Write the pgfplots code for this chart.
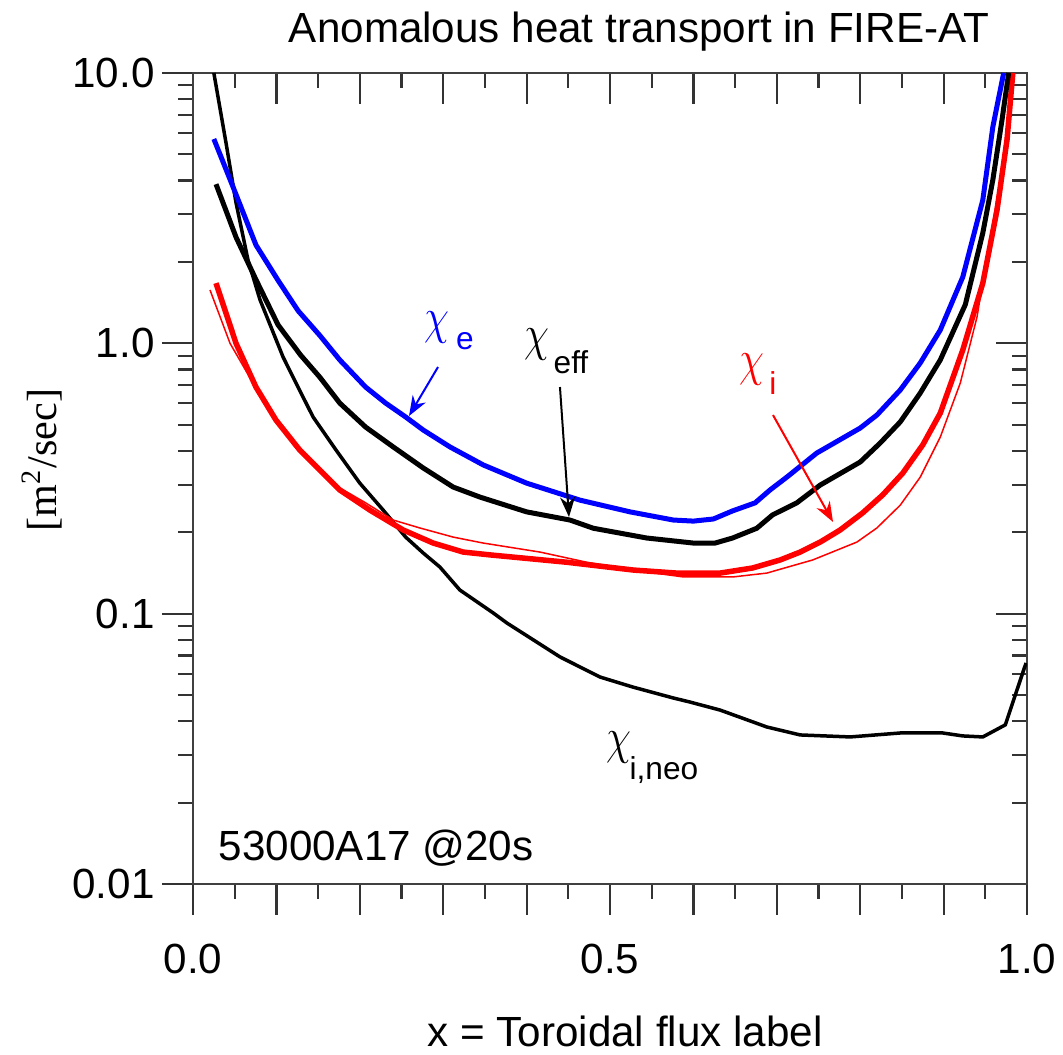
\documentclass[border=0pt]{standalone}
\usepackage{fontspec}
\setmainfont{Liberation Sans}
\newfontfamily\serifont{Liberation Serif}
\usepackage{pgfplots}
\pgfplotsset{compat=1.18}
\usetikzlibrary{arrows.meta}

\newcommand\fs{\fontsize{12}{14}\selectfont}
\newcommand\sub{\fontsize{9}{10}\selectfont}
\newcommand\chii{\scalebox{0.8}[1]{\fontsize{14}{15}\selectfont$\chi$}}

\pgfplotsset{
  boxframe/.style={
    width=83.4mm, height=81.1mm, scale only axis,
    xmin=0, xmax=1, ymin=0.01, ymax=10,
    axis line style={line width=0.25mm, black!75},
    major tick length=3.1mm, minor tick length=1.5mm,
    every tick/.style={line width=0.22mm, black!80},
    xtick={0,0.1,0.2,0.3,0.4,0.5,0.6,0.7,0.8,0.9,1},
    minor xtick={0.05,0.15,0.25,0.35,0.45,0.55,0.65,0.75,0.85,0.95},
    ytick={0.01,0.1,1,10},
    minor ytick={0.02,0.03,0.04,0.05,0.06,0.07,0.08,0.09,
                 0.2,0.3,0.4,0.5,0.6,0.7,0.8,0.9,
                 2,3,4,5,6,7,8,9},
  }
}

\begin{document}
\begin{tikzpicture}
\useasboundingbox (-19.3mm,-17mm) rectangle (87mm,88.4mm);

% ticks on top and right point inward
\begin{axis}[ymode=log, boxframe, tick align=inside, xtick pos=right, ytick pos=right,
  xticklabels={}, yticklabels={}, tick label style={opacity=0}]
\end{axis}

\begin{axis}[ymode=log, boxframe, tick align=outside, xtick pos=left, ytick pos=left,
  clip mode=individual,
  xticklabels={\mbox{0.0},,,,,\mbox{0.5},,,,,\mbox{1.0}},
  yticklabels={\mbox{0.01},\mbox{0.1},\mbox{1.0},\mbox{10.0}},
  tick label style={font=\fs},
  xticklabel style={yshift=-1.7mm},
  yticklabel style={xshift=0.5mm}]

% chi_i,neo
\addplot[black, line width=0.35mm] coordinates {(0.025,10.0)(0.0396,5.51)(0.0516,3.31)(0.066,2.03)(0.0803,1.45)(0.096,1.10)(0.108,0.890)(0.1235,0.713)(0.144,0.534)(0.1715,0.403)(0.200,0.304)(0.228,0.2417)(0.255,0.192)(0.276,0.1677)(0.296,0.1488)(0.320,0.1223)(0.360,0.1006)(0.3765,0.0923)(0.440,0.0692)(0.488,0.0583)(0.5276,0.0535)(0.5755,0.0488)(0.596,0.0471)(0.632,0.0440)(0.688,0.0381)(0.728,0.0356)(0.788,0.0350)(0.848,0.0362)(0.899,0.0362)(0.923,0.0353)(0.947,0.0350)(0.974,0.0388)(0.9988,0.0657)};

% chi_i thin
\addplot[red, line width=0.15mm] coordinates {(0.0204,1.575)(0.0444,1.00)(0.072,0.713)(0.0995,0.530)(0.128,0.403)(0.176,0.292)(0.207,0.257)(0.240,0.222)(0.272,0.2075)(0.312,0.192)(0.348,0.1825)(0.416,0.169)(0.472,0.155)(0.528,0.145)(0.588,0.1367)(0.647,0.1367)(0.688,0.1413)(0.743,0.158)(0.796,0.184)(0.820,0.2075)(0.848,0.252)(0.872,0.320)(0.896,0.450)(0.920,0.713)(0.940,1.25)(0.952,2.09)(0.968,4.02)(0.977,6.70)(0.983,10.0)};

% chi_i
\addplot[red, line width=0.55mm] coordinates {(0.0276,1.67)(0.0516,1.00)(0.0755,0.689)(0.0995,0.520)(0.128,0.403)(0.152,0.340)(0.176,0.2867)(0.212,0.2417)(0.252,0.204)(0.288,0.1825)(0.324,0.169)(0.356,0.165)(0.448,0.155)(0.528,0.145)(0.580,0.1413)(0.632,0.1413)(0.671,0.1476)(0.704,0.158)(0.728,0.169)(0.752,0.184)(0.776,0.204)(0.803,0.236)(0.827,0.275)(0.851,0.331)(0.875,0.421)(0.896,0.552)(0.923,0.945)(0.947,1.67)(0.964,3.11)(0.976,5.65)(0.983,10.0)};

% chi_eff
\addplot[black, line width=0.5mm] coordinates {(0.0276,3.88)(0.0516,2.47)(0.0755,1.72)(0.102,1.17)(0.129,0.905)(0.152,0.750)(0.176,0.601)(0.207,0.490)(0.240,0.414)(0.276,0.346)(0.312,0.294)(0.344,0.270)(0.400,0.238)(0.452,0.222)(0.480,0.207)(0.544,0.1905)(0.600,0.1825)(0.626,0.1825)(0.647,0.1905)(0.676,0.207)(0.695,0.232)(0.724,0.257)(0.752,0.299)(0.800,0.364)(0.824,0.428)(0.848,0.512)(0.872,0.655)(0.896,0.868)(0.926,1.39)(0.947,2.56)(0.959,4.02)(0.970,6.70)(0.978,10.0)};

% chi_e
\addplot[blue, line width=0.5mm] coordinates {(0.025,5.70)(0.048,3.79)(0.0755,2.31)(0.102,1.71)(0.126,1.32)(0.152,1.07)(0.176,0.868)(0.207,0.689)(0.231,0.601)(0.255,0.534)(0.276,0.478)(0.308,0.414)(0.348,0.355)(0.400,0.304)(0.464,0.263)(0.524,0.238)(0.576,0.222)(0.600,0.220)(0.624,0.224)(0.647,0.240)(0.674,0.257)(0.692,0.287)(0.712,0.320)(0.748,0.393)(0.800,0.486)(0.820,0.543)(0.848,0.672)(0.872,0.846)(0.896,1.12)(0.923,1.76)(0.947,3.39)(0.959,6.31)(0.972,10.0)};

% labels and arrows
\node[blue] at (rel axis cs:0.2926,0.6856) {\chii};
\node[blue, font=\sub] at (rel axis cs:0.3261,0.6695) {e};
\draw[blue, line width=0.2mm, -{Stealth[length=2mm,width=1.5mm]}] (rel axis cs:0.2938,0.6375) -- (rel axis cs:0.2590,0.5771);

\node at (rel axis cs:0.4125,0.6658) {\chii};
\node[font=\sub] at (rel axis cs:0.4532,0.6437) {eff};
\draw[black, line width=0.2mm, -{Stealth[length=2mm,width=1.5mm]}] (rel axis cs:0.4400,0.6128) -- (rel axis cs:0.4508,0.4525);

\node[red] at (rel axis cs:0.6703,0.6338) {\chii};
\node[red, font=\sub] at (rel axis cs:0.6954,0.6178) {i};
\draw[red, line width=0.2mm, -{Stealth[length=2mm,width=1.5mm]}] (rel axis cs:0.6954,0.5783) -- (rel axis cs:0.7674,0.4464);

\node at (rel axis cs:0.5108,0.1677) {\chii};
\node[font=\sub] at (rel axis cs:0.5647,0.1406) {i,neo};

\node[anchor=base west, font=\fs, inner sep=0pt] at (rel axis cs:0.030,0.0296) {53000A17 @20s};
\node[anchor=base, font=\fs, inner sep=0pt] at (rel axis cs:0.5348,1.0382) {Anomalous heat transport in FIRE-AT};
\node[anchor=base, font=\fs, inner sep=0pt] at (rel axis cs:0.518,-0.200) {x = Toroidal flux label};
\node[rotate=90, font=\serifont\fs] at (rel axis cs:-0.1811,0.5228) {[m\textsuperscript{2}/sec]};
\end{axis}
\end{tikzpicture}
\end{document}
